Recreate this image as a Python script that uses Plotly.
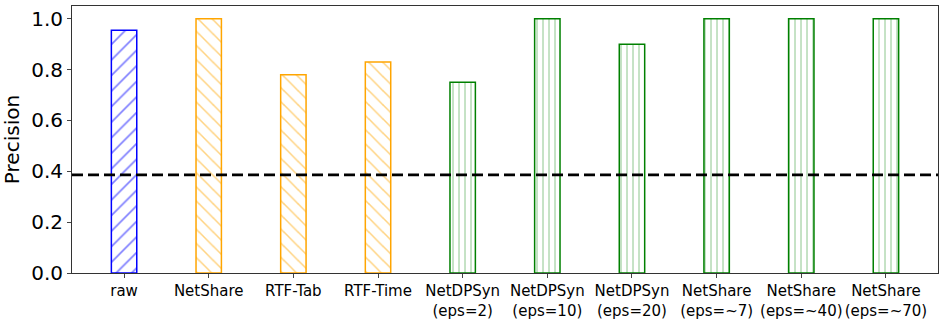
import plotly.graph_objects as go

# data
methods = [
    "raw", "NetShare", "RTF-Tab", "RTF-Time",
    "NetDPSyn<br>(eps=2)", "NetDPSyn<br>(eps=10)", "NetDPSyn<br>(eps=20)",
    "NetShare<br>(eps=~7)", "NetShare<br>(eps=~40)", "NetShare<br>(eps=~70)",
]
precision = [0.955, 1.0, 0.78, 0.83, 0.75, 1.0, 0.9, 1.0, 1.0, 1.0]
baseline = 0.386

colors = ["#0000ff"] + ["#ffa500"] * 3 + ["#008000"] * 6
hatches = ["/"] + ["\\"] * 3 + ["|"] * 6
sizes = [11] + [10] * 3 + [6] * 6

x_pos = list(range(len(methods)))

fig = go.Figure(go.Bar(
    x=x_pos,
    y=precision,
    width=0.3,
    marker=dict(
        color="white",
        line=dict(color=colors, width=1.5),
        pattern=dict(
            shape=hatches,
            fgcolor=colors,
            bgcolor="white",
            size=sizes,
            solidity=0.15,
            fillmode="overlay",
        ),
    ),
    showlegend=False,
))

# horizontal reference line
fig.add_shape(
    type="line", xref="paper", x0=0, x1=1, yref="y", y0=baseline, y1=baseline,
    line=dict(color="black", width=2.7, dash="11px,5px"),
)

fig.update_layout(
    width=947,
    height=320,
    margin=dict(l=72, r=9, t=6, b=47, autoexpand=False),
    paper_bgcolor="white",
    plot_bgcolor="white",
    font=dict(family="DejaVu Sans", color="black"),
    xaxis=dict(
        range=[-0.615, 9.615],
        tickmode="array",
        tickvals=x_pos,
        ticktext=methods,
        tickfont=dict(size=15),
        ticks="outside",
        ticklen=4,
        showgrid=False,
        showline=True,
        linecolor="#333333",
        mirror=True,
        zeroline=False,
        automargin=False,
    ),
    yaxis=dict(
        range=[0, 1.05],
        tickvals=[0, 0.2, 0.4, 0.6, 0.8, 1.0],
        tickformat=".1f",
        tickfont=dict(size=20),
        ticks="outside",
        ticklen=4,
        showgrid=False,
        showline=True,
        linecolor="#333333",
        mirror=True,
        zeroline=False,
        automargin=False,
        title=dict(text="Precision", font=dict(size=20), standoff=6),
    ),
)

# drop the page's default body margin so the figure sits at (0, 0)
fig.write_html(
    "out.html",
    config={"displayModeBar": False},
    post_script="document.body.style.margin='0';",
)
